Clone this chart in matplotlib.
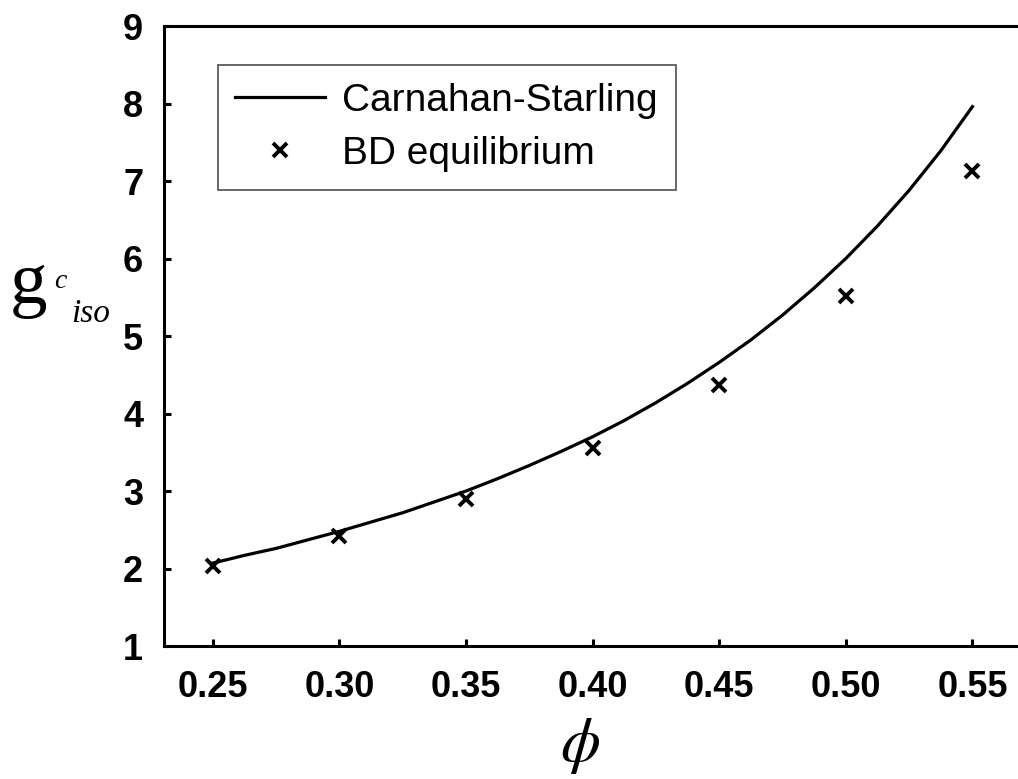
import matplotlib
matplotlib.use("Agg")
import matplotlib.pyplot as plt

plt.rcParams['font.family'] = ['Liberation Sans', 'DejaVu Sans']
plt.rcParams['mathtext.fontset'] = 'stix'

# Carnahan-Starling contact value
cs_phi = [0.25, 0.2625, 0.275, 0.2875, 0.30, 0.3125, 0.325, 0.3375, 0.35, 0.3625,
          0.375, 0.3875, 0.40, 0.4125, 0.425, 0.4375, 0.45, 0.4625, 0.475, 0.4875,
          0.50, 0.5125, 0.525, 0.5375, 0.55]
cs_g = [2.07, 2.17, 2.26, 2.37, 2.48, 2.60, 2.72, 2.86, 3.00, 3.16,
        3.33, 3.51, 3.70, 3.91, 4.14, 4.39, 4.66, 4.95, 5.27, 5.62,
        6.00, 6.42, 6.88, 7.39, 7.96]

# Brownian dynamics equilibrium points
bd_phi = [0.25, 0.30, 0.35, 0.40, 0.45, 0.50, 0.55]
bd_g = [2.03, 2.42, 2.90, 3.55, 4.37, 5.52, 7.13]

xticks = [0.25, 0.30, 0.35, 0.40, 0.45, 0.50, 0.55]
xtick_labels = ['0.25', '0.30', '0.35', '0.40', '0.45', '0.50', '0.55']
yticks = [1, 2, 3, 4, 5, 6, 7, 8, 9]

fig = plt.figure(figsize=(10.18, 7.79), dpi=100)
ax = fig.add_axes([0.1611, 0.1707, 0.8389, 0.7959])

ax.plot(cs_phi, cs_g, color='black', lw=2.3, label='Carnahan-Starling')
ax.plot(bd_phi, bd_g, linestyle='none', marker='x', color='black',
        markersize=10, markeredgewidth=2.8, label='BD equilibrium')

ax.set_xlim(0.2307, 0.568)
ax.set_ylim(1, 9)
ax.set_xticks(xticks)
ax.set_xticklabels(xtick_labels)
ax.set_yticks(yticks)

for side in ['left', 'bottom', 'top']:
    ax.spines[side].set_linewidth(2.2)
ax.spines['right'].set_visible(False)

ax.tick_params(direction='in', length=5, width=2.2, top=False, right=False)
ax.tick_params(axis='y', pad=15)
ax.tick_params(axis='x', pad=17)
for lab in ax.get_xticklabels() + ax.get_yticklabels():
    lab.set_fontsize(26)
    lab.set_fontweight('bold')

# axis titles in pixel coordinates: phi below, g^c_iso on the left
H = 779
fig.text(580, H - 746, r'$\phi$', fontsize=46, ha='center', va='center',
         transform=None)
serif = ['Liberation Serif', 'DejaVu Serif']
fig.text(10, H - 303, 'g', fontsize=54, family=serif, ha='left',
         va='baseline', transform=None)
fig.text(54, H - 288, 'c', fontsize=20, family=serif, style='italic',
         ha='left', va='baseline', transform=None)
fig.text(71, H - 322, 'iso', fontsize=24, family=serif, style='italic',
         ha='left', va='baseline', transform=None)

leg = ax.legend(loc='upper left', bbox_to_anchor=(0.0632, 0.937), fontsize=28,
                frameon=True, fancybox=False, handlelength=2.3, handletextpad=0.45,
                borderpad=0.45, labelspacing=0.45, borderaxespad=0)
leg.get_frame().set_edgecolor('#333333')
leg.get_frame().set_linewidth(1.3)

fig.savefig('out.png', dpi=100)
